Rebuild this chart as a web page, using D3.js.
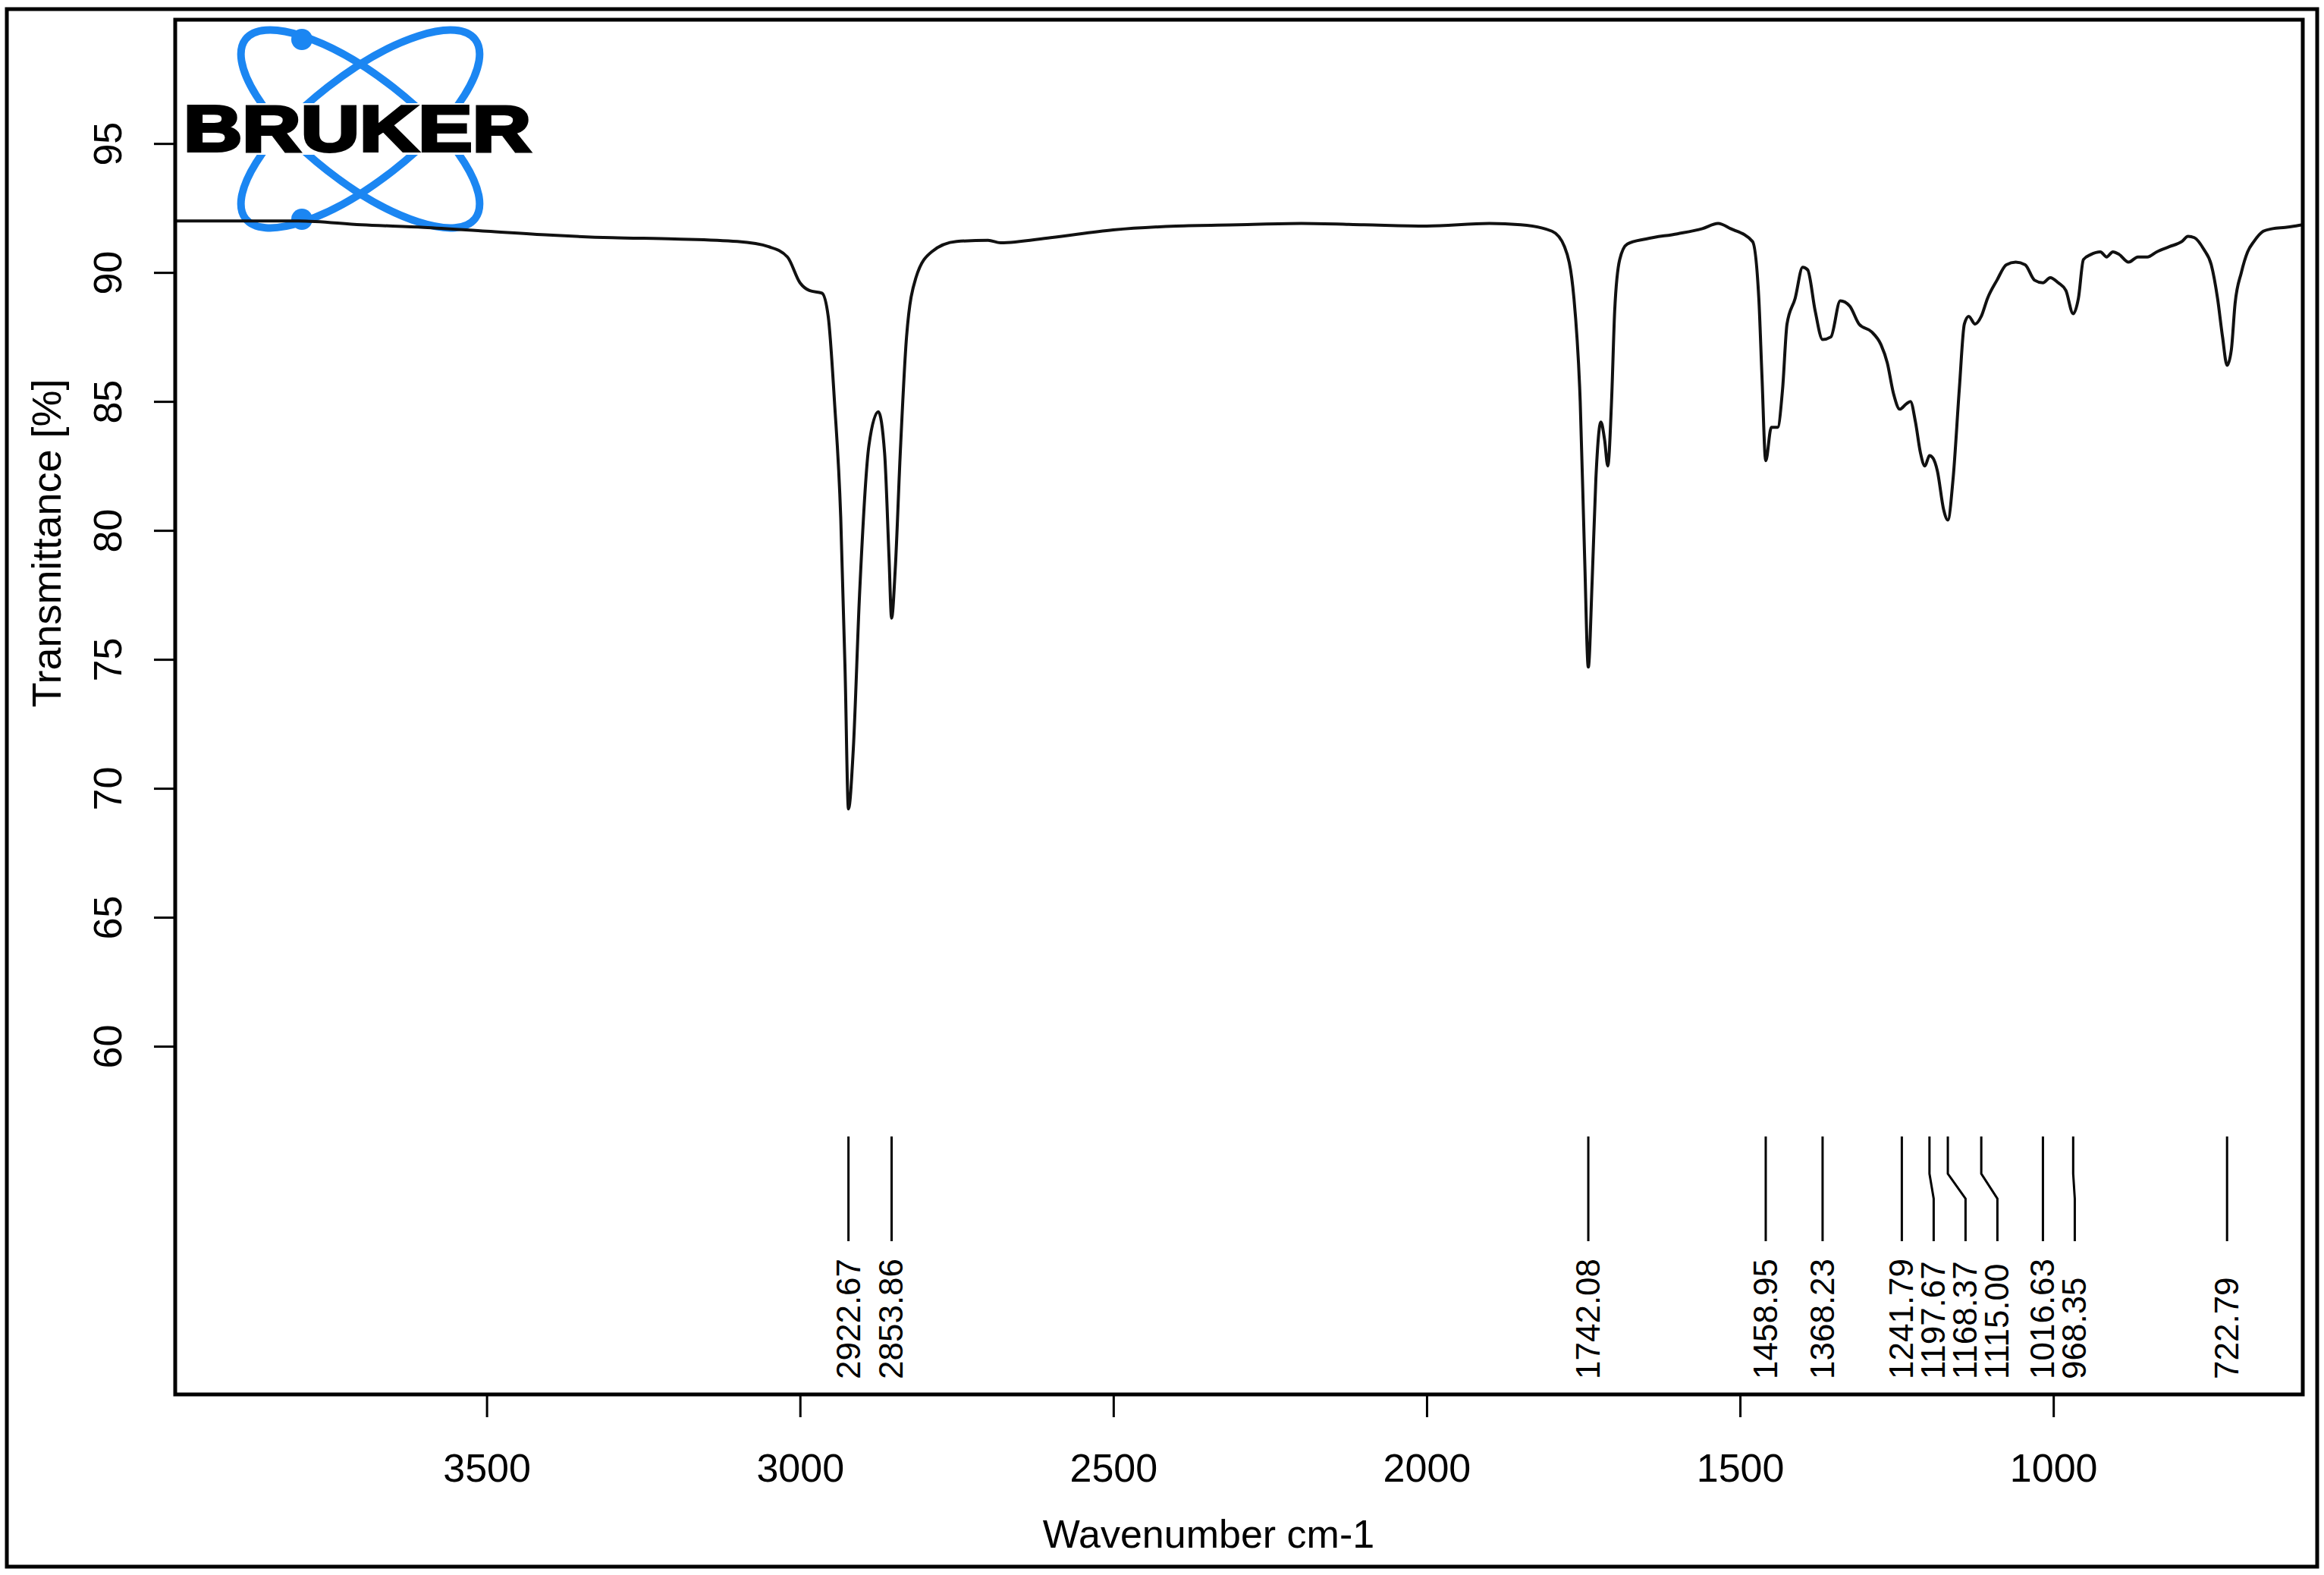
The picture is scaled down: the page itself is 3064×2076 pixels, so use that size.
<!DOCTYPE html>
<html><head><meta charset="utf-8">
<script src="https://cdn.jsdelivr.net/npm/d3@7"></script>
<style>body{margin:0;background:#fff}text{font-family:"Liberation Sans",Arial,sans-serif}</style>
</head><body>
<script>
const wavenumbers=[3997,3800,3700,3600,3500,3400,3300,3200,3100,3050,3020,3000,2985,2965,2955,2945,2935,2928,2922.67,2915,2905,2890,2875,2865,2858,2853.86,2848,2840,2830,2815,2790,2750,2700,2680,2600,2500,2400,2300,2200,2100,2000,1900,1850,1800,1780,1765,1755,1748,1742.08,1736,1730,1722,1716,1711,1705,1700,1692,1680,1650,1600,1560,1535,1515,1480,1470,1465,1458.95,1450,1440,1432,1425,1412,1400,1392,1380,1368.23,1355,1340,1325,1310,1290,1275,1265,1255,1245,1235,1228,1220,1212,1205,1197.67,1192,1185,1175,1168.37,1160,1150,1142,1135,1125,1115,1105,1090,1075,1060,1045,1030,1016.63,1005,992,980,968.35,960,952,940,925,915,905,895,880,865,850,835,815,795,785,775,760,748,738,730,722.79,716,710,700,690,680,665,650,630,615,602];
const transmittance=[92.0,92.0,91.85,91.75,91.6,91.45,91.35,91.3,91.2,91.0,90.6,89.6,89.3,89.2,88.3,85.0,80.5,74.5,69.2,71.5,77.5,83.3,84.6,83,79,76.6,78.5,83,87.5,89.8,90.8,91.2,91.25,91.15,91.35,91.65,91.8,91.85,91.9,91.85,91.8,91.9,91.85,91.6,91.0,89,85,79,74.7,78,82,84.2,83.5,82.5,85,88.5,90.5,91.1,91.3,91.5,91.7,91.9,91.7,91.2,89,86,82.7,84,84,85.5,88,89,90.2,90.1,88.5,87.4,87.5,88.9,88.7,88.0,87.7,87.2,86.5,85.3,84.7,84.9,85.0,84.2,83.0,82.5,82.9,82.8,82.3,80.8,80.4,82,85.5,88.0,88.3,88.0,88.3,89.0,89.7,90.3,90.4,90.3,89.7,89.6,89.8,89.6,89.3,88.4,89.0,90.5,90.7,90.8,90.6,90.8,90.7,90.4,90.6,90.6,90.8,91.0,91.2,91.4,91.35,90.9,90.3,89.0,87.5,86.4,87.0,88.8,90.0,90.8,91.2,91.6,91.7,91.75,91.8,91.85];
const peakLabels=[2922.67,2853.86,1742.08,1458.95,1368.23,1241.79,1197.67,1168.37,1115.00,1016.63,968.35,722.79];
const xTicks=[3500,3000,2500,2000,1500,1000];
const yTicks=[60,65,70,75,80,85,90,95];

const W=3064,H=2076;
const svg=d3.select("body").append("svg").attr("width",W).attr("height",H);
const L=231,R=3036,T=26,B=1838;
const x=d3.scaleLinear().domain([3997,602]).range([L,R]);
const y=d3.scaleLinear().domain([46.5,99.8]).range([B,T]);

svg.append("rect").attr("x",9).attr("y",12).attr("width",3046).attr("height",2053).attr("fill","none").attr("stroke","#000").attr("stroke-width",5);

const xa=svg.append("g").attr("transform",`translate(0,${B})`).call(d3.axisBottom(x).tickValues(xTicks).tickSize(30).tickPadding(48).tickFormat(d3.format("d")));
const ya=svg.append("g").attr("transform",`translate(${L},0)`).call(d3.axisLeft(y).tickValues(yTicks).tickSize(28).tickFormat(d3.format("d")));
[xa,ya].forEach(a=>{a.select(".domain").remove();a.selectAll("line").attr("stroke","#000").attr("stroke-width",3);a.selectAll("text").attr("font-size",52).attr("fill","#000").attr("font-family","Liberation Sans, Arial, sans-serif");});
ya.selectAll("text").attr("x",null).attr("dy",null).attr("text-anchor","middle").attr("transform",`translate(-71,0) rotate(-90)`);

svg.append("text").attr("x",(L+R)/2-40).attr("y",2040).attr("text-anchor","middle").attr("font-size",52).text("Wavenumber cm-1");
svg.append("text").attr("transform","translate(80,716) rotate(-90)").attr("text-anchor","middle").attr("font-size",54).text("Transmittance [%]");

// logo
const logo=svg.append("g");
const cx=475,cy=170;
[-38,38].forEach(a=>logo.append("ellipse").attr("cx",cx).attr("cy",cy).attr("rx",192).attr("ry",70).attr("transform",`rotate(${a} ${cx} ${cy})`).attr("fill","none").attr("stroke","#1b86f2").attr("stroke-width",10));
logo.append("circle").attr("cx",398).attr("cy",52).attr("r",14).attr("fill","#1b86f2");
logo.append("circle").attr("cx",398).attr("cy",289).attr("r",14).attr("fill","#1b86f2");
logo.append("rect").attr("x",236).attr("y",136).attr("width",472).attr("height",68).attr("fill","#fff");
logo.append("text").attr("x",242).attr("y",199).attr("font-size",86).attr("font-weight","bold").attr("textLength",458).attr("lengthAdjust","spacingAndGlyphs")
 .attr("fill","#000").attr("stroke","#000").attr("stroke-width",4).attr("paint-order","stroke").text("BRUKER");

const pts=wavenumbers.map((w,i)=>[w,transmittance[i]]);
svg.append("path").datum(pts).attr("fill","none").attr("stroke","#111").attr("stroke-width",4)
 .attr("d",d3.line().x(d=>x(d[0])).y(d=>y(d[1])).curve(d3.curveMonotoneX));

const sorted=peakLabels.slice().sort((a,b)=>b-a);
let last=-1e9;const gap=42;
const pk=sorted.map(w=>{const px=x(w);const lx=Math.max(px,last+gap);last=lx;return {w,px,lx};});
const g=svg.append("g");
pk.forEach(p=>{
  g.append("path").attr("d",`M${p.px},1498 L${p.px},1547 L${p.lx},1580 L${p.lx},1636`).attr("fill","none").attr("stroke","#000").attr("stroke-width",3);
  g.append("text").attr("transform",`translate(${p.lx+15},1818) rotate(-90)`).attr("font-size",44).text(p.w.toFixed(2));
});

svg.append("rect").attr("x",L).attr("y",T).attr("width",R-L).attr("height",B-T).attr("fill","none").attr("stroke","#000").attr("stroke-width",5);
</script>
</body></html>
